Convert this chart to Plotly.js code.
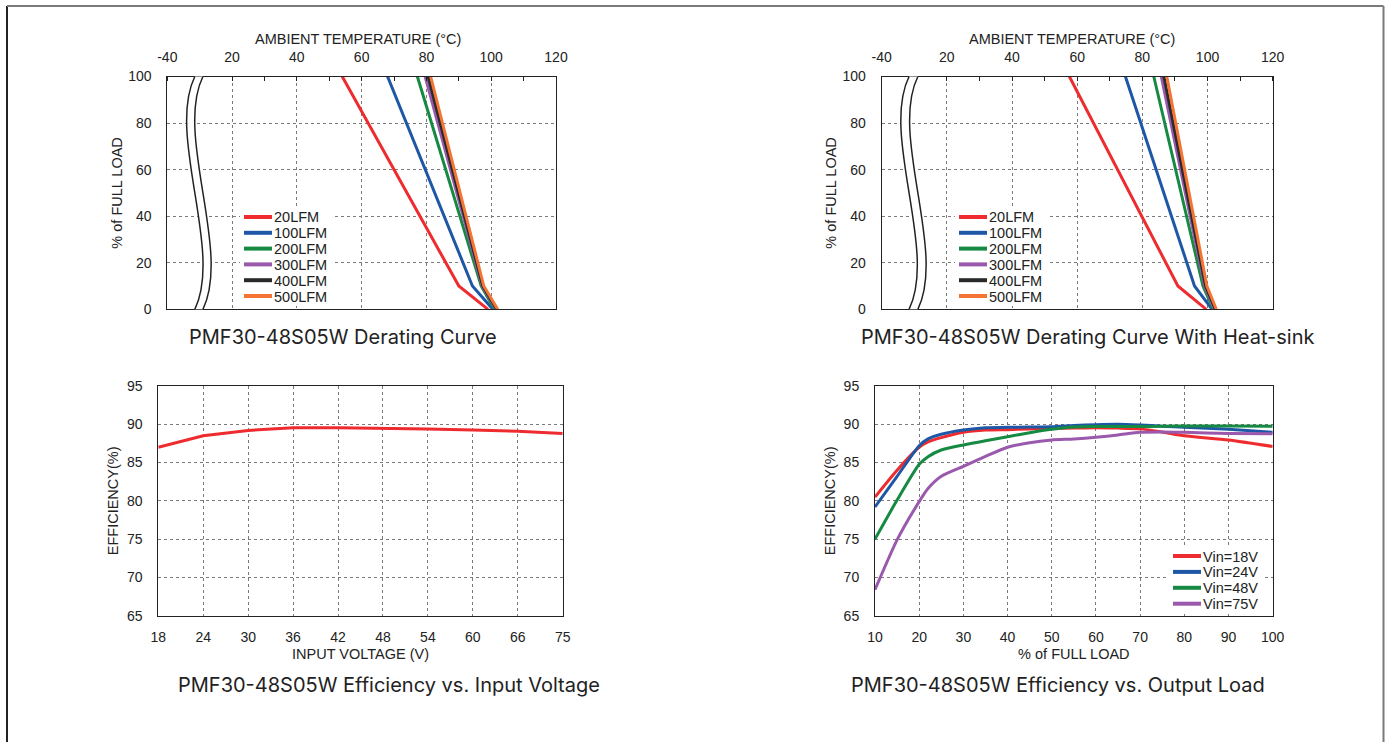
<!DOCTYPE html>
<html>
<head>
<meta charset="utf-8">
<script src="https://cdn.plot.ly/plotly-3.0.1.min.js"></script>
<style>html,body{margin:0;padding:0;background:#fff;}#chart{width:1391px;height:742px;}</style>
</head>
<body>
<div id="chart"></div>
<script>
// ---------- data ----------
const derateSeries = ["20LFM", "100LFM", "200LFM", "300LFM", "400LFM", "500LFM"];
const derateColors = ["#ee2b2e", "#1f57a7", "#168a43", "#9a59ad", "#2a2a2a", "#f47433"];
const derateLoad = [100, 10, 0];
// Derating curve (no heat-sink): ambient temperature at each load point
const derateTemp20 = [54, 90, 99];
const derateTemp100 = [68, 94.2, 100.5];
const derateTemp200 = [77.2, 96.9, 101];
const derateTemp300 = [79.6, 97.2, 101.5];
const derateTemp400 = [80.5, 97.4, 101.7];
const derateTemp500 = [81.3, 97.7, 102];
// Derating curve with heat-sink
const hsTemp20 = [57.6, 90.9, 99.6];
const hsTemp100 = [74.8, 96.0, 101.4];
const hsTemp200 = [83.5, 98.6, 101.8];
const hsTemp300 = [85.8, 99.1, 102.1];
const hsTemp400 = [86.6, 99.4, 102.4];
const hsTemp500 = [87.5, 99.8, 102.7];
const tempTickVals = [0, 20, 40, 60, 80, 100, 120];
const tempTickText = ["-40", "20", "40", "60", "80", "100", "120"];

// Efficiency vs input voltage
const inputVoltage = ["18", "24", "30", "36", "42", "48", "54", "60", "66", "75"];
const effVsVin = [87.0, 88.5, 89.2, 89.56, 89.56, 89.5, 89.4, 89.25, 89.1, 88.8];

// Efficiency vs output load
const loadPct = [10, 15, 20, 22, 25, 30, 35, 40, 45, 50, 55, 60, 65, 70, 75, 80, 90, 100];
const eff18V = [80.5, 84.0, 87.0, 87.7, 88.25, 88.95, 89.25, 89.3, 89.4, 89.47, 89.52, 89.56, 89.5, 89.4, 89.0, 88.5, 87.95, 87.1];
const eff24V = [79.2, 83.2, 87.2, 88.1, 88.7, 89.25, 89.56, 89.6, 89.65, 89.69, 89.85, 89.95, 90.0, 89.9, 89.75, 89.6, 89.34, 88.95];
const eff48V = [75.0, 80.1, 84.77, 85.77, 86.64, 87.3, 87.86, 88.38, 88.9, 89.34, 89.64, 89.7, 89.7, 89.7, 89.74, 89.78, 89.78, 89.73];
const eff75V = [68.4, 74.9, 79.9, 81.6, 83.2, 84.5, 85.8, 87.0, 87.6, 87.95, 88.08, 88.3, 88.6, 88.95, 89.0, 88.95, 88.8, 88.77];
const vinSeries = ["Vin=18V", "Vin=24V", "Vin=48V", "Vin=75V"];
const vinColors = ["#ee2b2e", "#1f57a7", "#168a43", "#9a59ad"];

// ---------- build ----------
const W = 1391, H = 742;
const px = v => v / W;
const py = v => 1 - v / H;
const FONT = "Liberation Sans, Arial, sans-serif";
const tickFont = {family: FONT, size: 14, color: "#222"};
const titleFont = {family: FONT, size: 14.5, color: "#222"};

const traces = [];
const derateAll = [derateTemp20, derateTemp100, derateTemp200, derateTemp300, derateTemp400, derateTemp500];
const hsAll = [hsTemp20, hsTemp100, hsTemp200, hsTemp300, hsTemp400, hsTemp500];
derateSeries.forEach((name, i) => {
  traces.push({x: derateAll[i], y: derateLoad, name: name, type: "scatter", mode: "lines",
    line: {color: derateColors[i], width: 3}, xaxis: "x", yaxis: "y", showlegend: false});
});
derateSeries.forEach((name, i) => {
  traces.push({x: hsAll[i], y: derateLoad, name: name, type: "scatter", mode: "lines",
    line: {color: derateColors[i], width: 3}, xaxis: "x2", yaxis: "y2", showlegend: false});
});
traces.push({x: inputVoltage, y: effVsVin, name: "Efficiency", type: "scatter", mode: "lines",
  line: {color: "#ee2b2e", width: 3}, xaxis: "x3", yaxis: "y3", showlegend: false});
const effAll = [eff18V, eff24V, eff48V, eff75V];
vinSeries.forEach((name, i) => {
  traces.push({x: loadPct, y: effAll[i], name: name, type: "scatter", mode: "lines",
    line: {color: vinColors[i], width: 3, shape: "spline", smoothing: 0.6},
    xaxis: "x4", yaxis: "y4", showlegend: false});
});

const gridCommon = {showgrid: true, gridcolor: "#7a7a7a", griddash: "dot", gridwidth: 1,
  showline: true, linecolor: "#222", linewidth: 1, mirror: true, zeroline: false,
  tickfont: tickFont, ticks: "", automargin: false, fixedrange: true};

const topTempAxis = (dom) => Object.assign({}, gridCommon, {
  domain: dom, side: "top", range: [0, 120], tickmode: "array",
  tickvals: tempTickVals, ticktext: tempTickText, ticklabelstandoff: 8,
  minor: {dtick: 10, tick0: 0, ticks: "inside", ticklen: 4, tickcolor: "#222", showgrid: false}
});
const loadAxis = (dom) => Object.assign({}, gridCommon, {
  domain: dom, range: [0, 100], dtick: 20, ticklabelstandoff: 12,
  title: {text: "% of FULL LOAD", font: titleFont, standoff: 2}
});
const effAxis = (dom) => Object.assign({}, gridCommon, {
  domain: dom, range: [65, 95], dtick: 5, ticklabelstandoff: 12,
  title: {text: "EFFICIENCY(%)", font: titleFont, standoff: 4}
});

const topY = [py(309.3), py(76.5)];
const botY = [py(615.7), py(386)];

// axis break decoration (data coords of each top panel)
function breakShapes(xr, yr, xl, xrgt) {
  const off = xrgt - xl;
  const a = xl, b = xrgt;
  const c1 = a - 8.8, c2 = a + 8.8;
  const fill = `M ${a} 100.8 L ${a} 100 C ${c1} 75, ${c2} 25, ${a} 0 L ${a} -0.8 L ${b} -0.8 L ${b} 0 C ${c2 + off} 25, ${c1 + off} 75, ${b} 100 L ${b} 100.8 Z`;
  return [
    {type: "path", xref: xr, yref: yr, path: fill, fillcolor: "white", line: {width: 0}, layer: "above"},
    {type: "path", xref: xr, yref: yr, path: `M ${a} 100 C ${c1} 75, ${c2} 25, ${a} 0`, line: {color: "#222", width: 1.5}, layer: "above"},
    {type: "path", xref: xr, yref: yr, path: `M ${b} 100 C ${c1 + off} 75, ${c2 + off} 25, ${b} 0`, line: {color: "#222", width: 1.5}, layer: "above"}
  ];
}

// hand-placed legends (tight row spacing like the reference)
const legendShapes = [];
const legendAnns = [];
function addLegend(names, colors, x0, yTop, rowGap, box) {
  legendShapes.push({type: "rect", xref: "paper", yref: "paper", x0: px(box[0]), x1: px(box[1]), y0: py(box[3]), y1: py(box[2]),
    fillcolor: "white", line: {width: 0}, layer: "above"});
  names.forEach((n, i) => {
    const y = yTop + i * rowGap;
    legendShapes.push({type: "line", xref: "paper", yref: "paper", x0: px(x0), x1: px(x0 + 28), y0: py(y), y1: py(y),
      line: {color: colors[i], width: 4}, layer: "above"});
    legendAnns.push({text: n, xref: "paper", yref: "paper", x: px(x0 + 29), y: py(y + 0.5), xanchor: "left", yanchor: "middle",
      showarrow: false, font: {family: FONT, size: 14.5, color: "#222"}, borderpad: 0});
  });
}
addLegend(derateSeries, derateColors, 244, 217, 15.8, [240, 333, 208, 306]);
addLegend(derateSeries, derateColors, 959, 217, 15.8, [955, 1048, 208, 306]);
addLegend(vinSeries, vinColors, 1173, 556, 15.9, [1169, 1264, 547, 613]);

const shapes = [].concat(
  breakShapes("x", "y", 8.5, 11.0),
  breakShapes("x2", "y2", 8.4, 11.1),
  legendShapes,
  [
    {type: "line", xref: "paper", yref: "paper", x0: px(7), x1: px(7), y0: py(6), y1: -0.01, line: {color: "#222", width: 2}},
    {type: "line", xref: "paper", yref: "paper", x0: px(7), x1: px(1383.5), y0: py(6), y1: py(6), line: {color: "#7a7a7a", width: 2}},
    {type: "line", xref: "paper", yref: "paper", x0: px(1383.5), x1: px(1383.5), y0: py(6), y1: -0.01, line: {color: "#7a7a7a", width: 2}}
  ]
);

const chartTitleFont = {family: "Inter, Noto Sans, sans-serif", size: 20, color: "#222"};
const annotations = [
  {text: "PMF30-48S05W Derating Curve", x: px(343), y: py(337)},
  {text: "PMF30-48S05W Derating Curve With Heat-sink", x: px(1087), y: py(337)},
  {text: "PMF30-48S05W Efficiency vs. Input Voltage", x: px(389), y: py(685)},
  {text: "PMF30-48S05W Efficiency vs. Output Load", x: px(1058), y: py(685)}
].map(a => Object.assign(a, {xref: "paper", yref: "paper", showarrow: false, xanchor: "center", yanchor: "middle", font: chartTitleFont}))
 .concat([
  {text: "AMBIENT TEMPERATURE (°C)", x: px(358), y: py(38.5)},
  {text: "AMBIENT TEMPERATURE (°C)", x: px(1072), y: py(38.5)}
 ].map(a => Object.assign(a, {xref: "paper", yref: "paper", showarrow: false, xanchor: "center", yanchor: "middle", font: titleFont, borderpad: 0})))
 .concat(legendAnns);

const layout = {
  width: W, height: H, margin: {l: 0, r: 0, t: 0, b: 0},
  paper_bgcolor: "white", plot_bgcolor: "white", showlegend: false,
  font: tickFont,
  xaxis: topTempAxis([px(167.3), px(556)]),
  yaxis: loadAxis(topY),
  xaxis2: Object.assign(topTempAxis([px(881.7), px(1272.7)]), {anchor: "y2"}),
  yaxis2: Object.assign(loadAxis(topY), {anchor: "x2"}),
  xaxis3: Object.assign({}, gridCommon, {domain: [px(158.3), px(562.7)], anchor: "y3", type: "category",
    range: [0, 9], ticklabelstandoff: 8, title: {text: "INPUT VOLTAGE (V)", font: titleFont, standoff: 5}}),
  yaxis3: Object.assign(effAxis(botY), {anchor: "x3"}),
  xaxis4: Object.assign({}, gridCommon, {domain: [px(875), px(1272.7)], anchor: "y4",
    range: [10, 100], dtick: 10, ticklabelstandoff: 8, title: {text: "% of FULL LOAD", font: titleFont, standoff: 5}}),
  yaxis4: Object.assign(effAxis(botY), {anchor: "x4"}),
  shapes: shapes,
  annotations: annotations
};

Plotly.newPlot("chart", traces, layout, {displayModeBar: false, staticPlot: true});
</script>
</body>
</html>
